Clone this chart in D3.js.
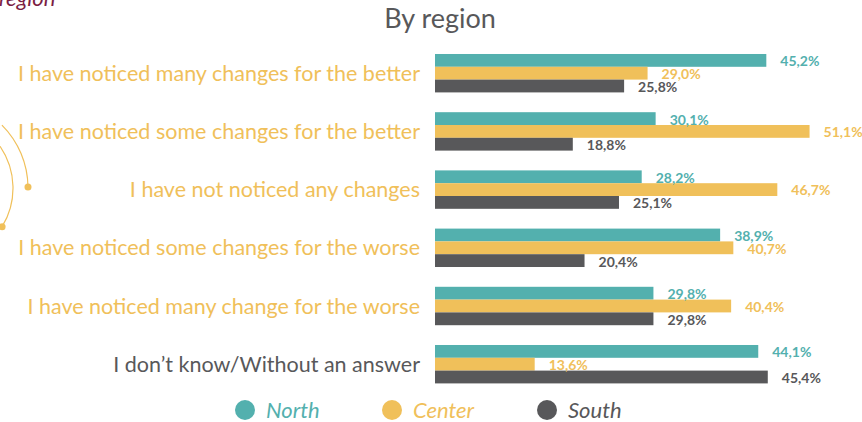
<!DOCTYPE html>
<html lang="en">
  <head>
    <meta charset="UTF-8" />
    <title>By region</title>
    <script src="https://cdn.jsdelivr.net/npm/d3@7"></script>
    <style>
      body { margin: 0; background: #fff; }
      text { font-family: Lato, "Open Sans", sans-serif; }
    </style>
  </head>
  <body>
    <svg width="862" height="422"></svg>
  </body>

  <script>
    // categories, top to bottom
    var categories = [
      'I have noticed many changes for the better',
      'I have noticed some changes for the better',
      'I have not noticed any changes',
      'I have noticed some changes for the worse',
      'I have noticed many change for the worse',
      'I don\u2019t know/Without an answer'
    ];
    var seriesNames = ['North', 'Center', 'South'];
    var north = [45.2, 30.1, 28.2, 38.9, 29.8, 44.1];
    var center = [29.0, 51.1, 46.7, 40.7, 40.4, 13.6];
    var south = [25.8, 18.8, 25.1, 20.4, 29.8, 45.4];

    var colors = ['#53b0ae', '#f0c05a', '#58585a'];
    var labelColors = ['#f0c05a', '#f0c05a', '#f0c05a', '#f0c05a', '#f0c05a', '#58585a'];

    var svg = d3.select('svg');
    var x0 = 435;

    var rows = categories.map(function (c, i) {
      return { cat: c, values: [north[i], center[i], south[i]] };
    });

    // scales
    var x = d3.scaleLinear().domain([0, 10]).range([x0, x0 + 73.3]);
    var y = d3.scaleBand()
      .domain(categories)
      .range([44.1, 393.3])
      .paddingInner(0.34)
      .paddingOuter(0.17);
    var ySub = d3.scaleBand().domain(seriesNames).range([0, y.bandwidth()]);

    var fmt = function (v) { return d3.format('.1f')(v).replace('.', ',') + '%'; };

    // cut-off heading from above
    svg.append('text')
      .attr('x', -1).attr('y', 6)
      .attr('font-size', 22).attr('font-style', 'italic')
      .attr('fill', '#7b1e44')
      .text('region');

    // decorative arcs on the left
    function arcPath(r, a0, a1) {
      var p = d3.path();
      p.arc(0, 0, r, a0, a1, false);
      return p.toString();
    }
    var deco = svg.append('g').attr('transform', 'translate(-61,188)');
    deco.append('path')
      .attr('d', arcPath(89, -Math.PI / 4, -0.01))
      .attr('fill', 'none').attr('stroke', '#f0c05a').attr('stroke-width', 1.2);
    deco.append('circle').attr('cx', 89 * Math.cos(-0.01)).attr('cy', 89 * Math.sin(-0.01))
      .attr('r', 3.5).attr('fill', '#f0c05a');
    deco.append('path')
      .attr('d', arcPath(74, -0.6, 0.55))
      .attr('fill', 'none').attr('stroke', '#f0c05a').attr('stroke-width', 1.2);
    deco.append('circle').attr('cx', 74 * Math.cos(0.55)).attr('cy', 74 * Math.sin(0.55))
      .attr('r', 3.5).attr('fill', '#f0c05a');

    // title
    svg.append('text')
      .attr('x', 440).attr('y', 28)
      .attr('text-anchor', 'middle')
      .attr('font-size', 27)
      .attr('fill', '#58585a')
      .text('By region');

    // category labels
    svg.append('g').selectAll('text')
      .data(rows).enter().append('text')
      .attr('x', 420)
      .attr('y', function (d) { return y(d.cat) + y.bandwidth() / 2; })
      .attr('dy', '0.35em')
      .attr('text-anchor', 'end')
      .attr('font-size', 21.5)
      .attr('fill', function (d, i) { return labelColors[i]; })
      .text(function (d) { return d.cat; });

    // bars
    var gs = svg.append('g').selectAll('g')
      .data(rows).enter().append('g')
      .attr('transform', function (d) { return 'translate(0,' + y(d.cat) + ')'; });

    gs.selectAll('rect')
      .data(function (d) { return d.values; })
      .enter().append('rect')
      .attr('x', x(0))
      .attr('y', function (d, i) { return ySub(seriesNames[i]); })
      .attr('width', function (d) { return x(d) - x(0); })
      .attr('height', ySub.bandwidth())
      .attr('fill', function (d, i) { return colors[i]; });

    gs.selectAll('text')
      .data(function (d) { return d.values; })
      .enter().append('text')
      .attr('x', function (d) { return x(d) + 14; })
      .attr('y', function (d, i) { return ySub(seriesNames[i]) + ySub.bandwidth() / 2 + 1; })
      .attr('dy', '0.35em')
      .attr('font-size', 14)
      .attr('font-weight', 'bold')
      .attr('fill', function (d, i) { return colors[i]; })
      .text(fmt);

    // legend
    var legendX = [245, 392, 547];
    var lg = svg.append('g').selectAll('g')
      .data(seriesNames).enter().append('g')
      .attr('transform', function (d, i) { return 'translate(' + legendX[i] + ',410)'; });
    lg.append('circle').attr('r', 10).attr('fill', function (d, i) { return colors[i]; });
    lg.append('text')
      .attr('x', 21).attr('dy', '0.35em')
      .attr('font-size', 22).attr('font-style', 'italic')
      .attr('fill', function (d, i) { return colors[i]; })
      .text(function (d) { return d; });
  </script>
</html>
